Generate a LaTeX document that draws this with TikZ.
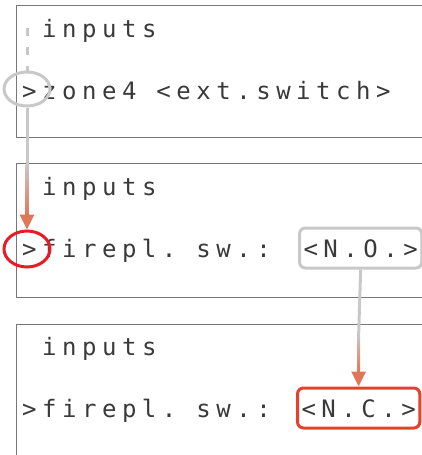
\documentclass[tikz,border=0pt]{standalone}
\usepackage{fontspec}
\setmonofont{DejaVu Sans Mono}[LetterSpace=23]
\usetikzlibrary{arrows.meta,calc,shapes.geometric}
\definecolor{hint}{RGB}{200,200,200}
\definecolor{flow}{RGB}{226,118,88}
\definecolor{mark}{RGB}{228,30,36}
\definecolor{pick}{RGB}{232,64,42}
\definecolor{lcd}{RGB}{58,58,58}
\definecolor{frame}{RGB}{120,120,120}
\begin{document}
\begin{tikzpicture}[x=1pt,y=-1pt,
    screen/.style={draw=frame,line width=0.8pt},
    txt/.style={anchor=base west,inner sep=0pt,text=lcd,
      font=\ttfamily\fontsize{24}{24}\selectfont\frenchspacing},
    valbox/.style={txt,line width=3pt,rounded corners=6pt,
      inner xsep=4pt,inner ysep=11pt,text height=18pt,text depth=0pt},
    ring/.style={ellipse,line width=3pt,inner sep=0pt},
    lead/.style={hint,line width=3pt},
    tip/.style={flow,line width=3pt,-{Triangle[length=15pt,width=14pt]}}]
  \clip (0,0) rectangle (422,455);
  % the three display screens, cut off on the right
  \draw[screen] (16,5) rectangle (440,137);
  \draw[screen] (16,163) rectangle (440,297);
  \draw[screen] (16,324) rectangle (440,470);
  % screen 1
  \node[txt] (in1) at (42,37) {inputs};
  \node[txt] (zone) at (22,99) {>zone4 <ext.switch>};
  % screen 2
  \node[txt] (in2) at (42,195) {inputs};
  \node[txt] (fire2) at (22,257) {>firepl. sw.:};
  \node[valbox,draw=hint] (no) at (298,257) {<N.O.>\hspace{-5.5pt}};
  % screen 3
  \node[txt] (in3) at (42,355) {inputs};
  \node[txt] (fire3) at (22,417) {>firepl. sw.:};
  \node[valbox,draw=pick] (nc) at (296,417) {<N.C.>\hspace{-5.5pt}};
  % cursor marks
  \node[ring,draw=hint,minimum width=46pt,minimum height=34pt] (sel1) at (27,89) {};
  \node[ring,draw=mark,minimum width=46pt,minimum height=36pt] (sel2) at (27,249) {};
  % cursor moves down one screen
  \coordinate (top1) at (27,28);
  \draw[lead,dash pattern=on 8pt off 11pt] (top1) -- (sel1.north);
  \coordinate (f1) at ($(sel2.north)+(0,-65)$);
  \coordinate (h1) at ($(sel2.north)+(0,-14)$);
  \draw[lead] (sel1.south) -- (f1);
  \shade[top color=hint,bottom color=flow] ($(f1)+(-1.5,0)$) rectangle ($(h1)+(1.5,0)$);
  \draw[tip] (h1) -- (sel2.north);
  % N.O. becomes N.C.
  \coordinate (f2) at ($(nc.north)+(0,-52)$);
  \coordinate (h2) at ($(nc.north)+(0,-14)$);
  \draw[lead] (no.south) -- (f2);
  \shade[top color=hint,bottom color=flow] ($(f2)+(-1.5,0)$) rectangle ($(h2)+(1.5,0)$);
  \draw[tip] (h2) -- (nc.north);
\end{tikzpicture}
\end{document}
